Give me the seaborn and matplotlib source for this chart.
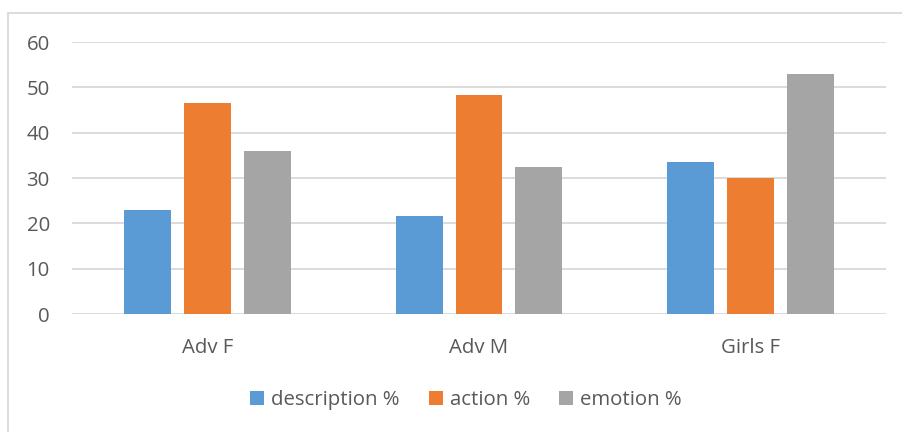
import matplotlib
matplotlib.use("Agg")
import matplotlib.pyplot as plt
from matplotlib.patches import Rectangle
import seaborn as sns
import pandas as pd

groups = ["Adv F", "Adv M", "Girls F"]
series = ["description %", "action %", "emotion %"]
description_pct = [23.0, 21.6, 33.5]
action_pct = [46.5, 48.3, 30.1]
emotion_pct = [36.0, 32.5, 53.0]
palette = ["#5B9BD5", "#ED7D31", "#A5A5A5"]
y_ticks = [0, 10, 20, 30, 40, 50, 60]

rows = []
for name, vals in zip(series, [description_pct, action_pct, emotion_pct]):
    for g, v in zip(groups, vals):
        rows.append({"group": g, "series": name, "value": v})
df = pd.DataFrame(rows)

sns.set_theme(style="white")
plt.rcParams["font.family"] = ["Open Sans", "DejaVu Sans"]
text_color = "#595959"
grid_color = "#D9D9D9"
fs = 14.7

W, H = 902, 432
fig = plt.figure(figsize=(W / 100, H / 100), dpi=100)

# chart-area border
fig.patches.append(Rectangle((8 / W, -0.1), 1.1, (H - 13) / H + 0.1,
                             transform=fig.transFigure, fill=False,
                             edgecolor=grid_color, linewidth=1.3))

ax = fig.add_axes([72 / W, (H - 314) / H, (886 - 72) / W, (314 - 42) / H])
sns.barplot(data=df, x="group", y="value", hue="series", order=groups,
            hue_order=series, palette=palette, width=0.663, gap=0.217,
            saturation=1, edgecolor="none", ax=ax, legend=True)

ax.set_ylim(0, 60)
ax.set_yticks(y_ticks)
ax.set_xlim(-0.5, 2.5)
ax.yaxis.grid(True, color=grid_color, linewidth=1.3)
ax.set_axisbelow(True)
for s in ax.spines.values():
    s.set_visible(False)
ax.set_xlabel("")
ax.set_ylabel("")
ax.tick_params(axis="y", length=0, pad=16, labelsize=fs, labelcolor=text_color)
ax.tick_params(axis="x", length=0, pad=17, labelsize=fs, labelcolor=text_color)

handles, labels = ax.get_legend_handles_labels()
ax.get_legend().remove()
fig.legend(handles, labels, loc="center", bbox_to_anchor=(466 / W, (H - 400) / H),
           ncol=3, frameon=False, fontsize=fs, labelcolor=text_color,
           handlelength=0.68, handleheight=0.68, handletextpad=0.33, columnspacing=1.45)

fig.savefig("out.png", dpi=100)
